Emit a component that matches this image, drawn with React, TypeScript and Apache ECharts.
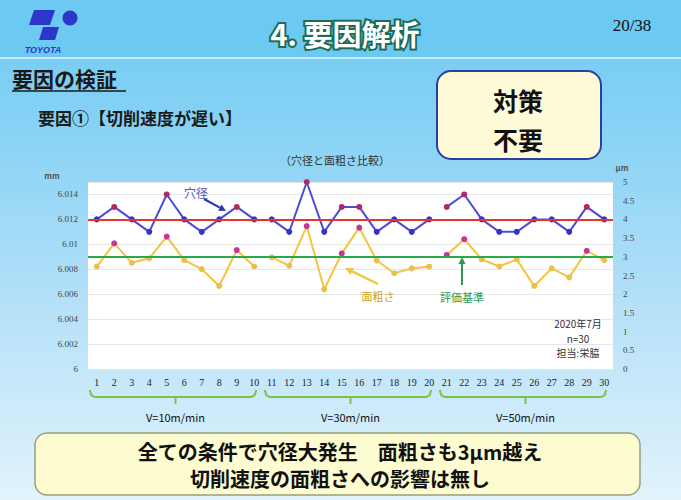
import React, { useEffect, useRef } from "react";
import * as echarts from "echarts";

// Sample numbers 1..30 on the category axis
const categories = [
  "1", "2", "3", "4", "5", "6", "7", "8", "9", "10",
  "11", "12", "13", "14", "15", "16", "17", "18", "19", "20",
  "21", "22", "23", "24", "25", "26", "27", "28", "29", "30",
];

// 穴径 (mm), left axis
const holeDiameter = [
  6.012, 6.013, 6.012, 6.011, 6.014, 6.012, 6.011, 6.012, 6.013, 6.012,
  6.012, 6.011, 6.015, 6.011, 6.013, 6.013, 6.011, 6.012, 6.011, 6.012,
  6.013, 6.014, 6.012, 6.011, 6.011, 6.012, 6.012, 6.011, 6.013, 6.012,
];

// 面粗さ (μm), right axis
const roughness = [
  2.74, 3.36, 2.84, 2.96, 3.54, 2.91, 2.67, 2.22, 3.18, 2.74,
  2.99, 2.76, 3.82, 2.13, 3.09, 3.78, 2.9, 2.56, 2.69, 2.74,
  3.05, 3.47, 2.93, 2.74, 2.93, 2.22, 2.69, 2.45, 3.16, 2.91,
];

// Cutting-speed groups, 10 samples each
const speedGroups = ["V=10m/min", "V=30m/min", "V=50m/min"];
const groupSize = 10;

const holeTarget = 6.012; // red reference line (mm)
const roughnessLimit = 3; // 評価基準 (μm)

const mmTicks = { min: 6, max: 6.015, interval: 0.002 };
const umTicks = { min: 0, max: 5, interval: 0.5 };

const JP = '"Noto Sans CJK JP", "Noto Sans", sans-serif';
const SERIF = '"Liberation Serif", "DejaVu Serif", serif';

const BLUE_LINE = "#4c4cda";
const BLUE_DOT = "#3434c6";
const HOLE_HIGH = "#b0286a";
const YELLOW_LINE = "#f2c53e";
const YELLOW_DOT = "#e8c050";
const ROUGH_HIGH = "#c8349c";
const BRACE_GREEN = "#7fc046";

function arrow(x1: number, y1: number, x2: number, y2: number, color: string, width = 2, head = 7) {
  const a = Math.atan2(y2 - y1, x2 - x1);
  const bx = x2 - head * Math.cos(a);
  const by = y2 - head * Math.sin(a);
  const px = -Math.sin(a) * head * 0.5;
  const py = Math.cos(a) * head * 0.5;
  return [
    { type: "line", z: 50, shape: { x1, y1, x2: bx, y2: by }, style: { stroke: color, lineWidth: width } },
    { type: "polygon", z: 50, shape: { points: [[x2, y2], [bx + px, by + py], [bx - px, by - py]] }, style: { fill: color } },
  ];
}

function text(x: number, y: number, t: string, size: number, fill: string, extra: any = {}) {
  return {
    type: "text",
    z: 60,
    x,
    y,
    style: {
      text: t,
      fill,
      fontSize: size,
      fontFamily: JP,
      align: "center",
      verticalAlign: "middle",
      ...extra,
    },
  };
}

function groupSeries(g: number) {
  const inGroup = (i: number) => Math.floor(i / groupSize) === g;
  const hole = holeDiameter.map((v, i) =>
    inGroup(i) ? { value: v, itemStyle: { color: v >= holeTarget + 0.0009 ? HOLE_HIGH : BLUE_DOT } } : "-"
  );
  const rough = roughness.map((v, i) =>
    inGroup(i) ? { value: v, itemStyle: { color: v > roughnessLimit ? ROUGH_HIGH : YELLOW_DOT } } : "-"
  );
  return [
    {
      type: "line",
      name: "穴径",
      yAxisIndex: 0,
      data: hole,
      z: 4,
      symbol: "circle",
      symbolSize: 6,
      clip: false,
      lineStyle: { color: BLUE_LINE, width: 2 },
    },
    {
      type: "line",
      name: "面粗さ",
      yAxisIndex: 1,
      data: rough,
      z: 4,
      symbol: "circle",
      symbolSize: 6,
      clip: false,
      lineStyle: { color: YELLOW_LINE, width: 2 },
    },
  ];
}

function staticGraphics() {
  const logoBlue = "#2c36c8";
  return [
    // header band
    { type: "rect", z: 1, shape: { x: 0, y: 0, width: 681, height: 57 }, style: { fill: "#6cc9f2" } },
    { type: "rect", z: 1, shape: { x: 0, y: 57, width: 681, height: 2 }, style: { fill: "#c6ebfb" } },
    // logo
    { type: "polygon", z: 2, shape: { points: [[34, 10], [55, 10], [50, 25], [29, 25]] }, style: { fill: logoBlue } },
    { type: "polygon", z: 2, shape: { points: [[43, 27], [59, 27], [55, 40], [39, 40]] }, style: { fill: logoBlue } },
    { type: "circle", z: 2, shape: { cx: 70, cy: 18, r: 7.5 }, style: { fill: logoBlue } },
    text(43, 50, "TOYOTA", 9, logoBlue, { fontFamily: '"Liberation Sans", sans-serif', fontStyle: "italic", fontWeight: "bold" }),
    // title
    text(345, 33, "4. 要因解析", 29, "#ffffff", {
      fontWeight: "bold",
      stroke: "#1d6b58",
      lineWidth: 4,
      shadowColor: "rgba(10,70,50,0.7)",
      shadowBlur: 6,
    }),
    text(632, 25, "20/38", 17, "#111111", { fontFamily: SERIF }),
    // headings
    text(12, 78, "要因の検証", 21, "#1a1a1a", { align: "left", fontWeight: "bold" }),
    { type: "line", z: 2, shape: { x1: 12, y1: 91, x2: 126, y2: 91 }, style: { stroke: "#1a1a1a", lineWidth: 1.5 } },
    text(38, 117, "要因①【切削速度が遅い】", 17, "#1a1a1a", { align: "left", fontWeight: "bold" }),
    text(335, 160, "（穴径と面粗さ比較）", 11, "#333333"),
    // 対策不要 box
    {
      type: "rect",
      z: 2,
      shape: { x: 437, y: 71, width: 164, height: 88, r: 14 },
      style: { fill: "#fffbd9", stroke: "#2b3f9c", lineWidth: 2 },
    },
    text(518, 100, "対策", 25, "#111111", { fontWeight: "bold" }),
    text(518, 139, "不要", 25, "#111111", { fontWeight: "bold" }),
    // axis units
    text(52, 175, "mm", 8, "#555555", { fontWeight: "bold" }),
    text(622, 167, "μm", 8, "#555555", { fontWeight: "bold" }),
    // series annotations
    text(196, 192, "穴径", 12, "#5656c4"),
    ...arrow(204, 199, 226, 211, "#3030b0", 2, 7),
    text(378, 296, "面粗さ", 11, "#d4a020"),
    ...arrow(378, 284, 345, 268, "#f0c83c", 2.5, 8),
    text(462, 297, "評価基準", 11, "#2a9a50"),
    ...arrow(462, 285, 462, 257, "#2a9a50", 2, 7),
    // notes
    text(578, 323, "2020年7月", 10, "#333333"),
    text(578, 338, "n=30", 10, "#333333"),
    text(578, 352, "担当:栄脇", 10, "#333333"),
    // conclusion box
    {
      type: "rect",
      z: 2,
      shape: { x: 35, y: 433, width: 605, height: 62, r: 12 },
      style: { fill: "#fdfbd0", stroke: "#98a07c", lineWidth: 1.5 },
    },
    text(340, 451, "全ての条件で穴径大発生　面粗さも3μm越え", 20, "#111111", { fontWeight: "bold" }),
    text(340, 478, "切削速度の面粗さへの影響は無し", 20, "#111111", { fontWeight: "bold" }),
  ];
}

function braceGraphics(chart: echarts.ECharts) {
  const out: any[] = [];
  speedGroups.forEach((label, g) => {
    const first = chart.convertToPixel({ xAxisIndex: 0 }, g * groupSize) as number;
    const last = chart.convertToPixel({ xAxisIndex: 0 }, g * groupSize + groupSize - 1) as number;
    const x0 = first - 7;
    const x1 = last + 2;
    const xc = (first + last) / 2;
    const yTop = 390;
    const yMid = 397;
    out.push({
      type: "polyline",
      z: 5,
      shape: { points: [[x0, yTop], [x0 + 1.5, yMid - 2], [x0 + 5, yMid], [x1 - 5, yMid], [x1 - 1.5, yMid - 2], [x1, yTop]] },
      style: { stroke: BRACE_GREEN, lineWidth: 2, fill: null },
    });
    out.push({
      type: "line",
      z: 5,
      shape: { x1: xc, y1: yMid, x2: xc, y2: 404 },
      style: { stroke: BRACE_GREEN, lineWidth: 2 },
    });
    out.push(text(xc, 417, label, 11, "#111111"));
  });
  return out;
}

export default function App() {
  const ref = useRef<HTMLDivElement>(null);

  useEffect(() => {
    document.body.style.margin = "0";
    if (!ref.current) return;
    const chart = echarts.init(ref.current, undefined, { renderer: "svg" });

    const series: any[] = [];
    for (let g = 0; g < speedGroups.length; g++) series.push(...groupSeries(g));

    // reference lines, kept under the data lines
    series.push({
      type: "line",
      yAxisIndex: 0,
      data: [],
      z: 2,
      markLine: {
        silent: true,
        symbol: "none",
        precision: 4,
        label: { show: false },
        lineStyle: { color: "#e8322c", width: 2, type: "solid" },
        data: [{ yAxis: holeTarget }],
      },
    });
    series.push({
      type: "line",
      yAxisIndex: 1,
      data: [],
      z: 2,
      markLine: {
        silent: true,
        symbol: "none",
        precision: 3,
        label: { show: false },
        lineStyle: { color: "#2aa84a", width: 2, type: "solid" },
        data: [{ yAxis: roughnessLimit }],
      },
    });

    chart.setOption({
      animation: false,
      backgroundColor: "transparent",
      grid: {
        left: 88,
        right: 68,
        top: 182,
        bottom: 131,
        show: true,
        backgroundColor: "#ffffff",
        borderWidth: 0,
      },
      xAxis: {
        type: "category",
        data: categories,
        boundaryGap: true,
        axisLine: { show: false },
        axisTick: { show: false },
        axisLabel: { interval: 0, color: "#222222", fontSize: 10, fontFamily: SERIF, margin: 8 },
      },
      yAxis: [
        {
          type: "value",
          position: "left",
          min: mmTicks.min,
          max: mmTicks.max,
          interval: mmTicks.interval,
          axisLine: { show: false },
          axisTick: { show: false },
          splitLine: { lineStyle: { color: "#e6e6e6", width: 1 } },
          axisLabel: {
            showMaxLabel: false,
            color: "#444444",
            fontSize: 9,
            fontFamily: SERIF,
            margin: 10,
            formatter: (v: number) => String(parseFloat(v.toFixed(3))),
          },
        },
        {
          type: "value",
          position: "right",
          min: umTicks.min,
          max: umTicks.max,
          interval: umTicks.interval,
          axisLine: { show: false },
          axisTick: { show: false },
          splitLine: { show: false },
          axisLabel: {
            color: "#444444",
            fontSize: 9,
            fontFamily: SERIF,
            margin: 10,
            formatter: (v: number) => String(parseFloat(v.toFixed(1))),
          },
        },
      ],
      series,
      graphic: staticGraphics(),
    });

    chart.setOption({ graphic: [...staticGraphics(), ...braceGraphics(chart)] });

    return () => chart.dispose();
  }, []);

  return (
    <div
      ref={ref}
      style={{
        position: "absolute",
        left: 0,
        top: 0,
        width: 681,
        height: 500,
        background: "linear-gradient(to bottom, #6fc9f2 0%, #86d2f5 25%, #b4e0f8 60%, #e2f3fc 100%)",
      }}
    />
  );
}
